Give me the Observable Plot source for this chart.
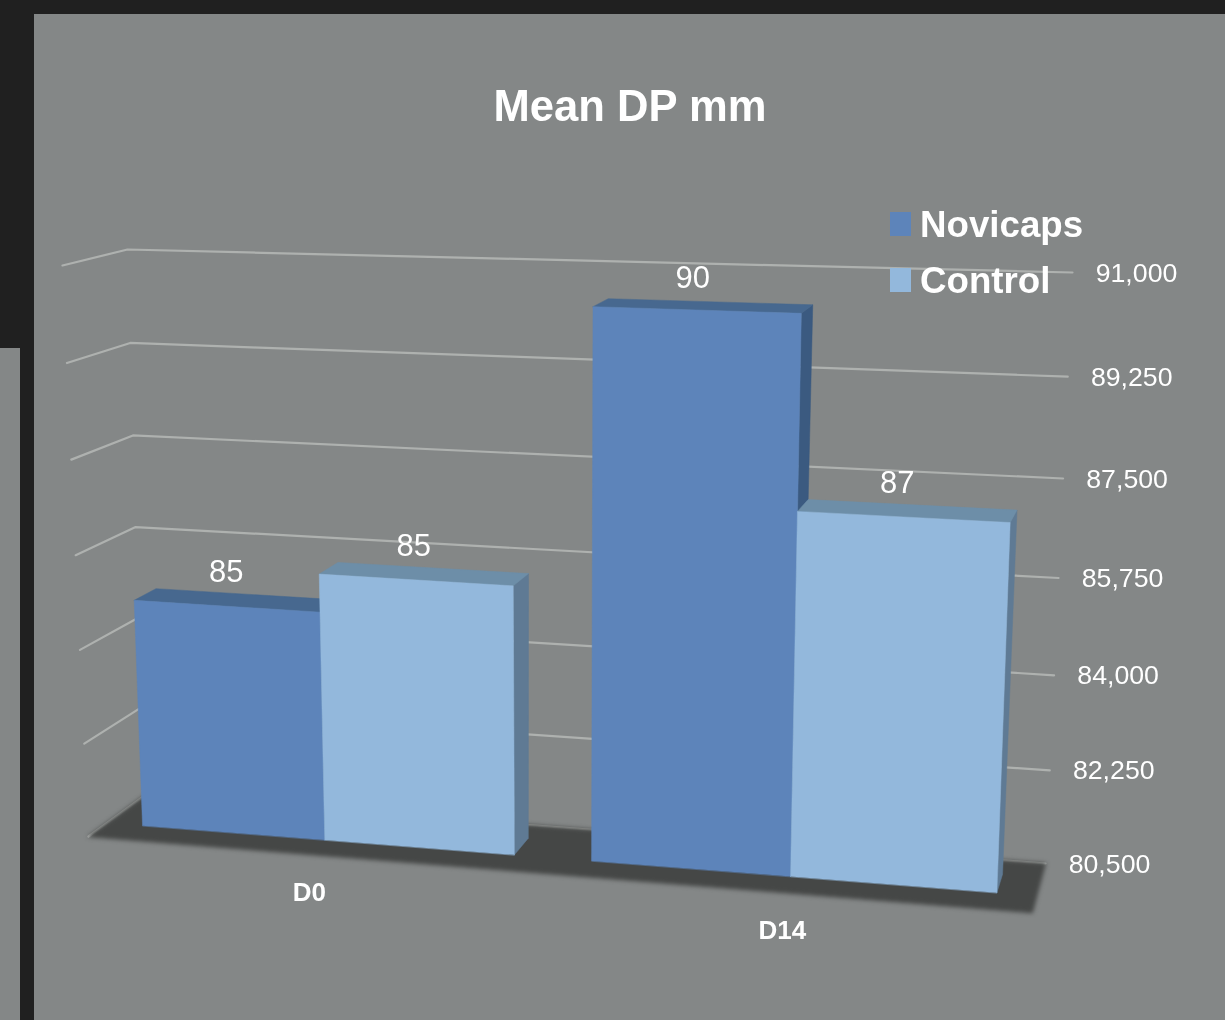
<!DOCTYPE html>
<html>
<head>
<meta charset="utf-8">
<script src="https://cdn.jsdelivr.net/npm/d3@7"></script>
<script src="https://cdn.jsdelivr.net/npm/@observablehq/plot@0.6"></script>
<style>
  html, body { margin: 0; padding: 0; background: #202020; width: 1225px; height: 1020px; overflow: hidden; }
  body { position: relative; font-family: "Liberation Sans", sans-serif; color: #fff; }
  .panel { position: absolute; background: #848787; }
  #main { left: 34px; top: 14px; width: 1191px; height: 1006px; }
  #side { left: 0; top: 348px; width: 20px; height: 672px; }
  #chart { position: absolute; left: 0; top: 0; }
  #chart svg { display: block; background: transparent; filter: blur(0.5px); }
  #title { position: absolute; left: 330px; width: 600px; top: 81px; text-align: center; font-size: 43.6px; line-height: 50px; font-weight: 700; filter: blur(0.4px); }
  .lg { position: absolute; left: 890px; display: flex; align-items: center; font-size: 36.7px; font-weight: 700; line-height: 42px; filter: blur(0.4px); }
  .lg i { display: block; width: 21px; height: 24px; margin-right: 9px; }
  .lg span { position: relative; top: 1px; }
</style>
</head>
<body>
<div class="panel" id="main"></div>
<div class="panel" id="side"></div>
<div id="chart"></div>
<div id="title">Mean DP mm</div>
<div id="legend"></div>
<script>
// ---- data ----
const categories = ["D0", "D14"];
const seriesNames = ["Novicaps", "Control"];
const novicaps = [84770, 90450];
const control = [85470, 87075];
const labelNovicaps = [85, 90];
const labelControl = [85, 87];
const axisTicks = [80500, 82250, 84000, 85750, 87500, 89250, 91000];

// ---- colours ----
const palette = {
  Novicaps: {front: "#5d84ba", top: "#47688f", side: "#3b5a80"},
  Control: {front: "#93b8dc", top: "#6d8ea8", side: "#5f7a94"}
};
const gridColor = "#aeb1af";
const floorColor = "#454746";

// ---- the 3D box of the chart, as seen by the camera (bottom / top corners) ----
const box = {
  backLeft: [[143, 796], [127, 249]],
  backRight: [[1045, 863], [1072, 272]],
  frontLeft: [[88, 836], [62, 265]],
  frontRight: [[1032, 912], [1054, 295]]
};
const lerp = (a, b, t) => a + (b - a) * t;
const [vMin, vMax] = d3.extent(axisTicks);
// foreshortening of the value axis, a little stronger on the right-hand side
const rise = (v, k) => { const n = (v - vMin) / (vMax - vMin); return n / (1 + k * (1 - n)); };
function project(u, depth, value) {
  const tL = rise(value, 0.03), tR = rise(value, 0.07);
  const mix = (c, t) => [0, 1].map(i => lerp(c[0][i], c[1][i], t));
  const fl = mix(box.frontLeft, tL), fr = mix(box.frontRight, tR), bl = mix(box.backLeft, tL), br = mix(box.backRight, tR);
  return [0, 1].map(i => lerp(lerp(fl[i], fr[i], u), lerp(bl[i], br[i], u), depth));
}

// bar edges along the category axis, and bar depth range
const edges = {D0: [0.038, 0.234, 0.438], D14: [0.521, 0.735, 0.957]};
const depthFront = 0.34, depthBack = 0.72;

// ---- build polygons through the projection ----
const poly = (id, fill, corners) => corners.map(([u, d, v]) => {
  const [x, y] = project(u, d, v);
  return {id, fill, x, y};
});

const floor = poly("floor", floorColor, [[0, 0, vMin], [0, 1, vMin], [1, 1, vMin], [1, 0, vMin]]);

const bars = [];
const valueLabels = [];
categories.forEach((cat, c) => {
  seriesNames.forEach((name, s) => {
    const value = (s === 0 ? novicaps : control)[c];
    const label = (s === 0 ? labelNovicaps : labelControl)[c];
    const u0 = edges[cat][s], u1 = edges[cat][s + 1];
    const col = palette[name];
    const key = `${cat}-${name}`;
    bars.push(...poly(key + "-side", col.side, [[u1, depthFront, vMin], [u1, depthBack, vMin], [u1, depthBack, value], [u1, depthFront, value]]));
    bars.push(...poly(key + "-top", col.top, [[u0, depthFront, value], [u0, depthBack, value], [u1, depthBack, value], [u1, depthFront, value]]));
    bars.push(...poly(key + "-front", col.front, [[u0, depthFront, vMin], [u0, depthFront, value], [u1, depthFront, value], [u1, depthFront, vMin]]));
    const [x, y] = project((u0 + u1) / 2, (depthFront + depthBack) / 2, value);
    valueLabels.push({x, y, label});
  });
});

const grid = axisTicks.flatMap(t => [[0, 0], [0, 1], [1, 1]].map(([u, d]) => {
  const [x, y] = project(u, d, t);
  return {t, x, y};
}));

const tickLabels = axisTicks.map(t => {
  const [x, y] = project(1, 1, t);
  return {x, y, text: d3.format(",")(t)};
});

const catLabels = categories.map(cat => {
  const [x, y] = project(edges[cat][1], 0, vMin);
  return {x, y, text: cat};
});

const chart = Plot.plot({
  width: 1225,
  height: 1020,
  margin: 0,
  style: {background: "transparent", fontFamily: "Liberation Sans"},
  x: {type: "linear", domain: [0, 1225], range: [0, 1225], axis: null},
  y: {type: "linear", domain: [0, 1020], range: [0, 1020], axis: null},
  marks: [
    Plot.line(grid, {x: "x", y: "y", z: "t", stroke: gridColor, strokeWidth: 2.2}),
    Plot.line(floor, {x: "x", y: "y", z: "id", fill: floorColor, stroke: floorColor, strokeWidth: 1, curve: "linear-closed", imageFilter: "blur(2px)"}),
    Plot.line(bars, {x: "x", y: "y", z: "id", fill: "fill", stroke: "fill", strokeWidth: 0.5, curve: "linear-closed"}),
    Plot.text(valueLabels, {x: "x", y: "y", text: "label", dx: -11, dy: -28, fontSize: 31, fill: "#fff"}),
    Plot.text(tickLabels, {x: "x", y: "y", text: "text", dx: 64, dy: 0.5, fontSize: 26.7, fill: "#fff"}),
    Plot.text(catLabels, {x: "x", y: "y", text: "text", dy: 38, fontSize: 26, fontWeight: 700, fill: "#fff"})
  ]
});
document.getElementById("chart").append(chart);

// legend
const legend = document.getElementById("legend");
seriesNames.forEach((name, i) => {
  const row = document.createElement("div");
  row.className = "lg";
  row.style.top = (203 + i * 56) + "px";
  const sw = document.createElement("i");
  sw.style.background = palette[name].front;
  const label = document.createElement("span");
  label.textContent = name;
  row.append(sw, label);
  legend.append(row);
});
</script>
</body>
</html>
